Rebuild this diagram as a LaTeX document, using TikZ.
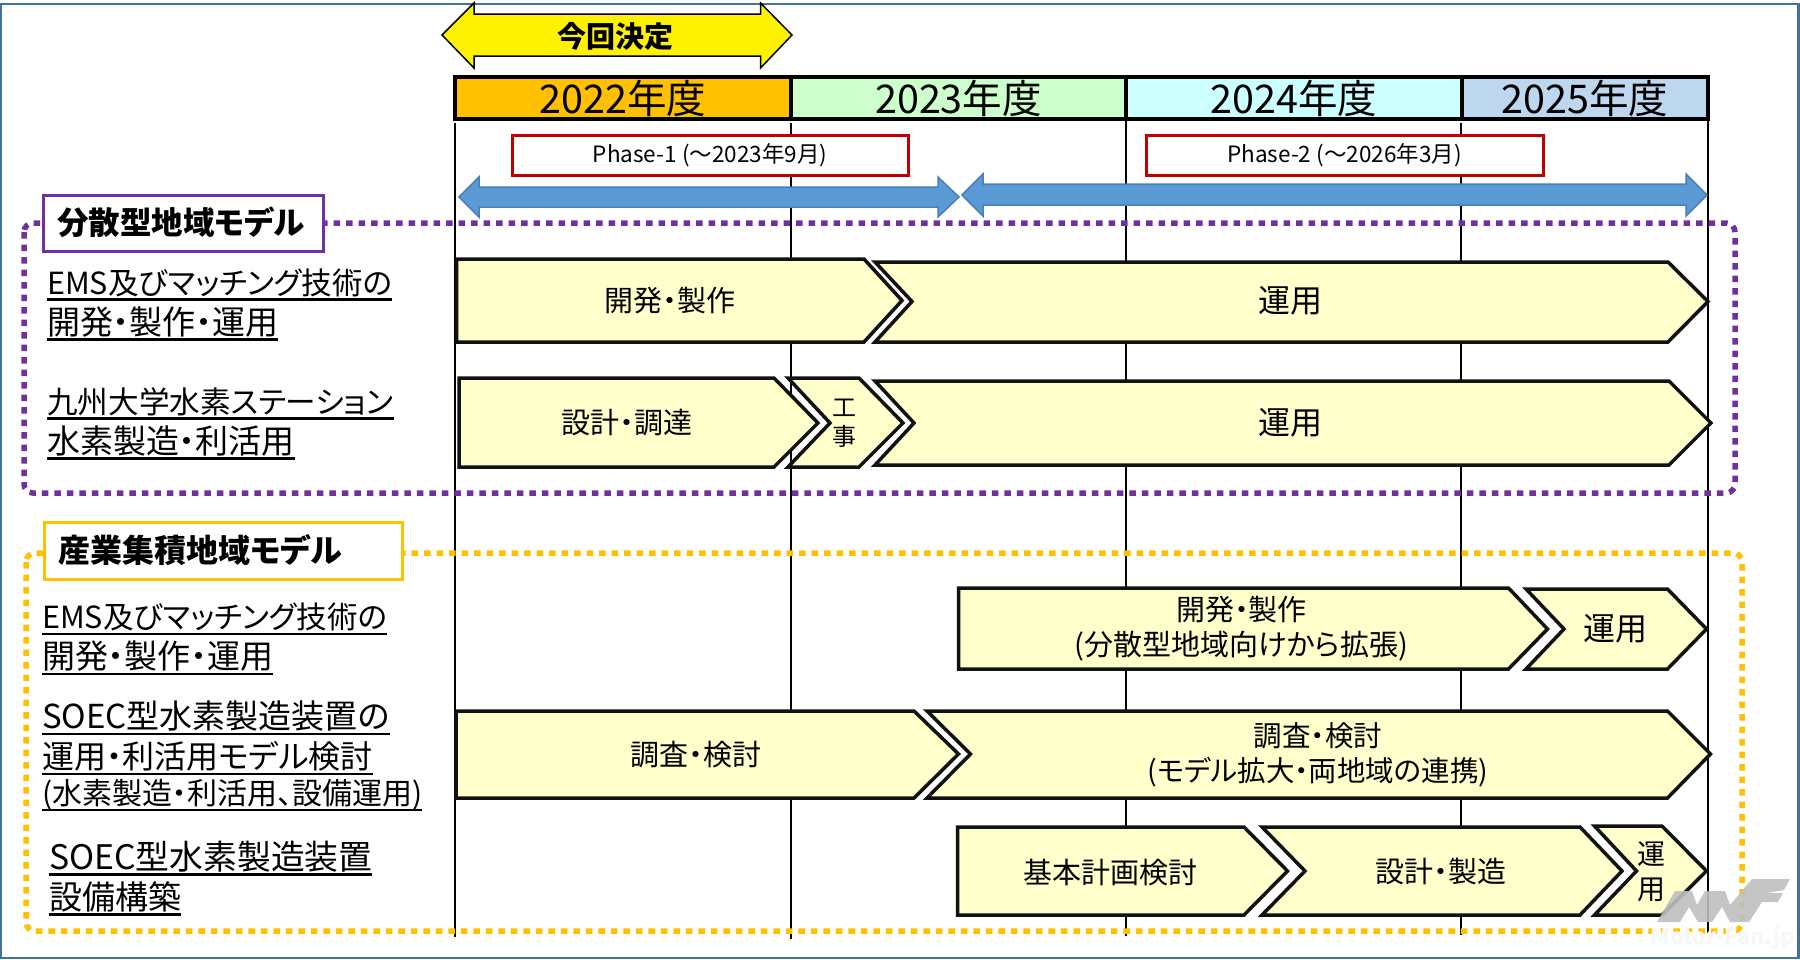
\documentclass[tikz,border=0pt]{standalone}
\usepackage{fontspec}
\setmainfont[RawFeature={+palt}]{Noto Sans CJK JP}
\definecolor{framecol}{HTML}{41719C}
\definecolor{arrowcol}{HTML}{5B9BD5}
\definecolor{arrowline}{HTML}{4A7EBB}
\definecolor{barcol}{HTML}{FFFFCC}
\definecolor{phasecol}{HTML}{C00000}
\definecolor{purplecol}{HTML}{7030A0}
\definecolor{orangecol}{HTML}{FFC000}
\definecolor{cell23}{HTML}{CCFFCC}
\definecolor{cell24}{HTML}{CCFFFF}
\definecolor{cell25}{HTML}{BDD7EE}
\newcommand{\ulinetext}[2]{\setbox0\hbox{\fontsize{#1}{40}\selectfont #2}\leavevmode\rlap{\copy0}\rule[-6.5pt]{\wd0}{2.6pt}}
\newcommand{\ulinethin}[2]{\setbox0\hbox{\fontsize{#1}{40}\selectfont #2}\leavevmode\rlap{\copy0}\rule[-6pt]{\wd0}{1.6pt}}
\tikzset{
  yearcell/.style={draw=black, line width=3.5pt, minimum height=42pt, inner sep=0pt, font=\fontsize{39.5}{40}\selectfont},
  gridline/.style={black, line width=1.6pt},
  phasebox/.style={draw=phasecol, fill=white, line width=3pt, minimum height=40pt, inner sep=0pt, font=\fontsize{22.5}{24}\selectfont},
  bluearrow/.style={draw=arrowline, fill=arrowcol, line width=1.5pt, line join=miter},
  barshape/.style={draw=black!93, fill=barcol, line width=3.5pt, line join=miter},
  bartext/.style={inner sep=0pt, align=center, font=\fontsize{29}{35}\selectfont},
  bigtext/.style={inner sep=0pt, align=center, font=\fontsize{32}{35}\selectfont},
  rowlabel/.style={inner sep=0pt, anchor=north west, align=left, font=\fontsize{30}{40}\selectfont},
  groupbox/.style={fill=white, line width=3pt, inner sep=0pt},
  grouptext/.style={inner sep=0pt, anchor=west, font=\fontsize{32}{34}\selectfont\bfseries},
  dotrect/.style={line width=5.5pt, dash pattern=on 6.5pt off 6pt, rounded corners=9pt}
}
\begin{document}
\begin{tikzpicture}[x=1pt, y=-1pt]
  \useasboundingbox (0,0) rectangle (1800,959);
  \fill[white] (0,0) rectangle (1800,959);
  \draw[framecol, line width=2.5pt] (1,4) rectangle (1798.5,958);

  \coordinate (g1top) at (455,123);
  \coordinate (g1end) at (455,937);
  \coordinate (g2top) at (791,123);
  \coordinate (g2end) at (791,939);
  \coordinate (g3top) at (1126,119);
  \coordinate (g3end) at (1126,936);
  \coordinate (g4top) at (1461,123);
  \coordinate (g4end) at (1461,935);
  \coordinate (g5top) at (1708,119);
  \coordinate (g5end) at (1708,933);
  \draw[gridline] (g1top) -- (g1end);
  \draw[gridline] (g2top) -- (g2end);
  \draw[gridline] (g3top) -- (g3end);
  \draw[gridline] (g4top) -- (g4end);
  \draw[gridline] (g5top) -- (g5end);

  \draw[black, fill=yellow, line width=1.5pt, line join=miter] (442,35) -- (474,3) -- (474,14) -- (760.5,14) -- (760.5,3) -- (792,35) -- (760.5,68) -- (760.5,56) -- (474,56) -- (474,68) -- cycle;
  \node[inner sep=0pt, font=\fontsize{29}{30}\selectfont\bfseries] (decided) at (615,36.5) {今回決定};

  \node[yearcell, fill=orangecol, minimum width=336pt] (y2022) at (623,98) {2022年度};
  \node[yearcell, fill=cell23, minimum width=335pt] (y2023) at (958.5,98) {2023年度};
  \node[yearcell, fill=cell24, minimum width=336pt] (y2024) at (1294,98) {2024年度};
  \node[yearcell, fill=cell25, minimum width=246pt] (y2025) at (1585,98) {2025年度};

  \node[phasebox, minimum width=396pt] (phase1) at (710,155) {Phase-1 (～2023年9月)};
  \node[phasebox, minimum width=397pt] (phase2) at (1344.5,155) {Phase-2 (～2026年3月)};

  \draw[bluearrow] (459,197) -- (479,177) -- (479,187) -- (938,187) -- (938,177) -- (959,197) -- (938,217) -- (938,207) -- (479,207) -- (479,217) -- cycle;
  \draw[bluearrow] (962,195) -- (983,174) -- (983,184) -- (1686,184) -- (1686,174) -- (1707,195) -- (1686,216) -- (1686,205) -- (983,205) -- (983,216) -- cycle;

  \draw[purplecol, dotrect] (24,223) rectangle (1735,493);
  \node[groupbox, draw=purplecol, minimum width=280pt, minimum height=56pt] (group1) at (183,223) {};
  \node[grouptext, font=\fontsize{31.5}{34}\selectfont\bfseries] (group1text) at (57,222) {分散型地域モデル};

  \node[rowlabel] (label1) at (47,268.5) {\ulinetext{30.5}{EMS及びマッチング技術の}\\\ulinetext{33}{開発・製作・運用}};
  \node[rowlabel] (label2) at (47,387) {\ulinetext{30.6}{九州大学水素ステーション}\\\ulinetext{33}{水素製造・利活用}};

  \draw[barshape] (456.5,259) -- (864,259) -- (902,300.5) -- (864,342) -- (456.5,342) -- cycle;
  \node[bartext] (dev1) at (670,301) {開発・製作};
  \draw[barshape] (875,262) -- (1668,262) -- (1708,301.5) -- (1668,342) -- (875,342) -- (912,301.5) -- cycle;
  \node[bigtext] (run1) at (1290,301) {運用};

  \draw[barshape] (459,378) -- (774,378) -- (818,423) -- (774,467) -- (459,467) -- cycle;
  \node[bartext] (design1) at (627,423) {設計・調達};
  \draw[barshape] (788,378) -- (859,378) -- (903,423) -- (859,467) -- (788,467) -- (830,423) -- cycle;
  \node[inner sep=0pt, align=center, font=\fontsize{24}{29}\selectfont] (work1) at (844,423) {工\\事};
  \draw[barshape] (875,381) -- (1669,381) -- (1711,423) -- (1669,465) -- (875,465) -- (914,423) -- cycle;
  \node[bigtext] (run2) at (1290,423) {運用};

  \draw[orangecol, dotrect] (26,553) rectangle (1742,931);
  \node[groupbox, draw=orangecol, minimum width=358pt, minimum height=57pt] (group2) at (223,550.5) {};
  \node[grouptext] (group2text) at (58,550) {産業集積地域モデル};

  \node[rowlabel] (label3) at (42,603) {\ulinetext{30.5}{EMS及びマッチング技術の}\\\ulinetext{33}{開発・製作・運用}};
  \node[rowlabel] (label4) at (42,701) {\ulinetext{33}{SOEC型水素製造装置の}\\\ulinetext{32}{運用・利活用モデル検討}\\[-4pt]\ulinethin{30}{(水素製造・利活用、設備運用)}};
  \node[rowlabel] (label5) at (49,840.5) {\ulinetext{33.8}{SOEC型水素製造装置}\\\ulinetext{33}{設備構築}};

  \draw[barshape] (958.5,588) -- (1508.5,588) -- (1547.5,629) -- (1508.5,669) -- (958.5,669) -- cycle;
  \node[bartext] (dev2) at (1241.5,629) {開発・製作\\(分散型地域向けから拡張)};
  \draw[barshape] (1526,589) -- (1667.5,589) -- (1706.5,629) -- (1667.5,669) -- (1526,669) -- (1564,629) -- cycle;
  \node[bigtext] (run3) at (1615,629) {運用};

  \draw[barshape] (456,711) -- (914,711) -- (958.5,754) -- (914,798) -- (456,798) -- cycle;
  \node[bartext] (study1) at (696,755) {調査・検討};
  \draw[barshape] (927,711) -- (1667.5,711) -- (1710.5,754) -- (1667.5,798) -- (927,798) -- (970.5,754) -- cycle;
  \node[bartext, font=\fontsize{28.5}{35}\selectfont] (study2) at (1318,754.5) {調査・検討\\(モデル拡大・両地域の連携)};

  \draw[barshape] (957.5,827) -- (1244,827) -- (1287.5,871) -- (1244,915) -- (957.5,915) -- cycle;
  \node[bartext] (plan1) at (1110.5,873) {基本計画検討};
  \draw[barshape] (1262,827) -- (1580,827) -- (1622,871) -- (1580,915) -- (1262,915) -- (1305,871) -- cycle;
  \node[bartext] (make1) at (1441,871) {設計・製造};
  \draw[barshape] (1594.5,826) -- (1662,826) -- (1706.5,871) -- (1662,915) -- (1594.5,915) -- (1636.5,871) -- cycle;
  \node[inner sep=0pt, align=center, font=\fontsize{28}{35}\selectfont] (run4) at (1651,871.5) {運\\用};

  \fill[gray!50, opacity=.9] (1657,922) -- (1675,891) -- (1692,891) -- (1697,905) -- (1705,891) -- (1725,891) -- (1730,905) -- (1752,879) -- (1790,879) -- (1784,890) -- (1767,893) -- (1783,893) -- (1778,902) -- (1762,902) -- (1749,922) -- (1730,922) -- (1722,907) -- (1712,922) -- (1698,922) -- (1689,907) -- (1680,922) -- cycle;
  \node[inner sep=0pt, text=gray!6, font=\fontsize{22}{24}\selectfont\bfseries] (brand) at (1723,938) {Motor-Fan.jp};
\end{tikzpicture}
\end{document}
